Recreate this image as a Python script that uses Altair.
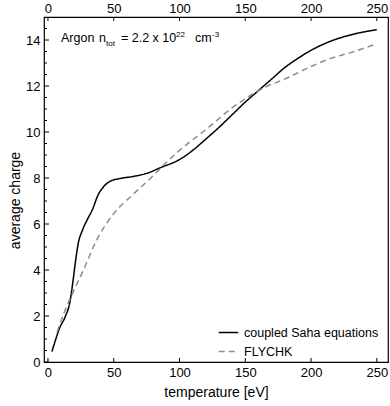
import altair as alt
import pandas as pd

# ---- data ----
saha_T = [3, 6, 9, 13, 17, 19, 21, 23, 26, 30, 34, 38, 42, 47, 55, 65, 75, 86, 100, 110,
          120, 130, 140, 150, 160, 170, 180, 190, 200, 215, 230, 250]
saha_Z = [0.45, 1.0, 1.5, 1.95, 2.7, 3.5, 4.4, 5.15, 5.7, 6.2, 6.65, 7.25, 7.6, 7.85, 7.98,
          8.07, 8.2, 8.46, 8.8, 9.2, 9.69, 10.2, 10.75, 11.3, 11.8, 12.3, 12.8, 13.2, 13.55,
          13.95, 14.22, 14.45]

fly_T = [7, 12, 18, 27, 37, 50, 65, 80, 86, 100, 120, 140, 150, 160, 167, 180, 200, 215, 230, 250]
fly_Z = [1.3, 2.1, 2.9, 4.0, 5.3, 6.45, 7.3, 8.1, 8.45, 9.2, 10.1, 11.05, 11.45, 11.8, 12.0,
         12.3, 12.85, 13.2, 13.45, 13.84]

series_names = ["coupled Saha equations", "FLYCHK"]
x_ticks = [0, 50, 100, 150, 200, 250]
y_major = [0, 2, 4, 6, 8, 10, 12, 14]
y_minor = [0.5, 1, 1.5, 2.5, 3, 3.5, 4.5, 5, 5.5, 6.5, 7, 7.5, 8.5, 9, 9.5, 10.5, 11,
           11.5, 12.5, 13, 13.5, 14.5]

W, H = 344, 345
FONT = "Liberation Sans"

curves = pd.concat([
    pd.DataFrame({"T": saha_T, "Z": saha_Z, "s": series_names[0], "o": range(len(saha_T))}),
    pd.DataFrame({"T": fly_T, "Z": fly_Z, "s": series_names[1], "o": range(len(fly_T))}),
])

xscale = alt.Scale(domain=[-3, 258.5], nice=False, zero=False)
yscale = alt.Scale(domain=[0, 15], nice=False, zero=False)

legend_kw = dict(title=None, orient="none", legendX=174, legendY=305,
                 symbolType="stroke", symbolSize=380, symbolStrokeWidth=1.4,
                 labelFontSize=12.5, labelFont=FONT, labelColor="black", rowPadding=2,
                 labelOffset=5, padding=0)

lines = alt.Chart(curves).mark_line(strokeWidth=1.5, clip=True, interpolate="monotone").encode(
    x=alt.X("T:Q", scale=xscale,
            axis=alt.Axis(orient="bottom", values=x_ticks, title="temperature [eV]",
                          ticks=False, domain=False, grid=False, labelFontSize=13,
                          labelPadding=4, titleFontSize=14, titleFontWeight="normal",
                          titlePadding=6, labelFont=FONT, titleFont=FONT,
                          labelColor="black", titleColor="black")),
    y=alt.Y("Z:Q", scale=yscale,
            axis=alt.Axis(values=y_major, title="average charge", ticks=False,
                          domain=False, grid=False, labelFontSize=13, labelPadding=4,
                          titleFontSize=14, titleFontWeight="normal", titlePadding=3,
                          titleY=183,
                          labelFont=FONT, titleFont=FONT, labelColor="black",
                          titleColor="black")),
    order="o:Q",
    color=alt.Color("s:N", scale=alt.Scale(domain=series_names, range=["black", "#8c8c8c"]),
                    legend=alt.Legend(**legend_kw)),
    strokeDash=alt.StrokeDash("s:N", scale=alt.Scale(domain=series_names,
                                                       range=[[1, 0], [6, 4]]),
                              legend=alt.Legend(**legend_kw)),
)

# top axis (labels only)
top = alt.Chart(pd.DataFrame({"v": x_ticks})).mark_point(opacity=0).encode(
    x=alt.X("v:Q", scale=xscale,
            axis=alt.Axis(orient="top", values=x_ticks, title=None, ticks=False,
                          domain=False, grid=False, labelFontSize=13, labelPadding=2,
                          labelFont=FONT, labelColor="black")),
)

xt = pd.DataFrame({"v": x_ticks})
tick_bottom = alt.Chart(xt).mark_rule(color="black", strokeWidth=1).encode(
    x=alt.X("v:Q", scale=xscale, axis=None), y=alt.value(H), y2=alt.value(H - 4))
tick_top = alt.Chart(xt).mark_rule(color="black", strokeWidth=1).encode(
    x=alt.X("v:Q", scale=xscale, axis=None), y=alt.value(0), y2=alt.value(4))
tick_ymaj = alt.Chart(pd.DataFrame({"v": y_major})).mark_rule(color="black", strokeWidth=1).encode(
    y=alt.Y("v:Q", scale=yscale, axis=None), x=alt.value(0), x2=alt.value(5))
tick_ymin = alt.Chart(pd.DataFrame({"v": y_minor})).mark_rule(color="black", strokeWidth=1).encode(
    y=alt.Y("v:Q", scale=yscale, axis=None), x=alt.value(0), x2=alt.value(3))

# annotation: Argon  n_tot = 2.2 x 10^22 cm^-3
ann_text = ["Argon", "n", "tot", "= 2.2 x 10", "22", "cm", "-3"]
ann_x = [17, 55, 62, 77, 132, 151, 168]
ann_y = [25, 25, 29, 25, 20, 25, 20]
ann_size = [12.5, 12.5, 8, 12.5, 8, 12.5, 8]
ann_layers = [
    alt.Chart(pd.DataFrame({"t": [t]})).mark_text(
        align="left", baseline="alphabetic", fontSize=s, font=FONT, color="black"
    ).encode(text="t:N", x=alt.value(x), y=alt.value(y))
    for t, x, y, s in zip(ann_text, ann_x, ann_y, ann_size)
]

chart = alt.layer(lines, top, tick_bottom, tick_top, tick_ymaj, tick_ymin, *ann_layers).resolve_axis(
    x="independent", y="independent"
).properties(
    width=W, height=H,
    padding={"left": 44, "top": 17, "right": 2, "bottom": 44},
    autosize=alt.AutoSizeParams(type="none"),
    background="white",
).configure_view(stroke="black", strokeWidth=1.2)

chart.save("out.html", embed_options={"renderer": "svg", "actions": False})
